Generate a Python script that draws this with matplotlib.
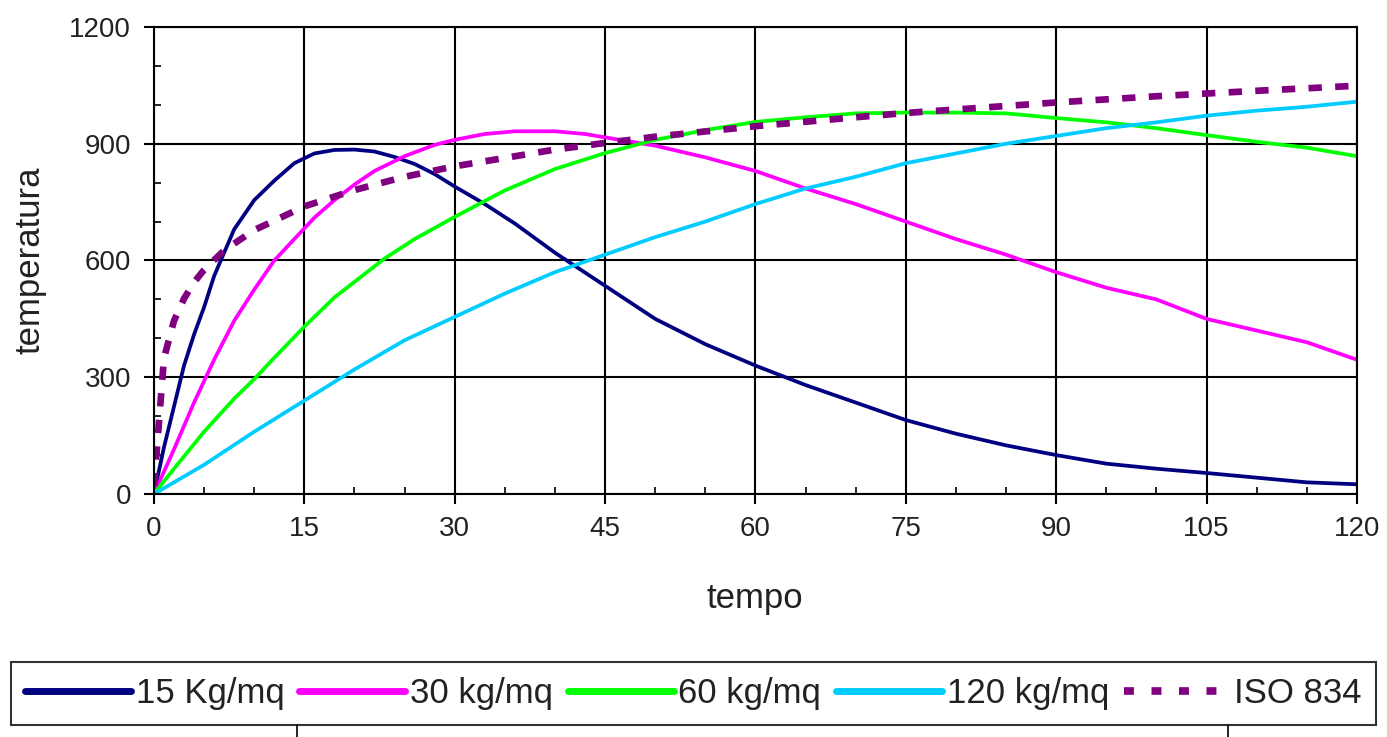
import numpy as np
import matplotlib
matplotlib.use("Agg")
import matplotlib.pyplot as plt
from matplotlib.lines import Line2D
from matplotlib.ticker import MultipleLocator

plt.rcParams['font.family'] = ['Liberation Sans', 'DejaVu Sans']

# values
t_15 = [0, 1, 2, 3, 4, 5, 6, 7, 8, 10, 12, 14, 16, 18, 20, 22, 24, 26, 28, 30,
        33, 36, 40, 45, 50, 55, 60, 65, 70, 75, 80, 85, 90, 95, 100, 105, 110, 115, 120]
T_15 = [0, 120, 225, 330, 410, 480, 560, 620, 680, 755, 805, 850, 875, 884, 885, 880,
        866, 848, 822, 790, 745, 695, 620, 535, 450, 385, 330, 280, 235, 190, 155, 125,
        100, 78, 65, 54, 42, 30, 25]

t_30 = [0, 2, 4, 6, 8, 10, 12, 14, 16, 18, 20, 22, 25, 28, 30, 33, 36, 40, 43, 46,
        50, 55, 60, 65, 70, 75, 80, 85, 90, 95, 100, 105, 110, 115, 120]
T_30 = [0, 115, 235, 345, 445, 525, 600, 655, 710, 755, 795, 830, 868, 897, 910, 925,
        932, 932, 925, 912, 895, 865, 830, 785, 745, 700, 655, 615, 570, 530, 500, 450,
        420, 390, 345]

t_60 = [0, 2, 5, 8, 10, 12, 15, 18, 20, 23, 26, 30, 35, 40, 45, 50, 55, 60, 65, 70,
        75, 80, 85, 90, 95, 100, 105, 110, 115, 120]
T_60 = [0, 65, 160, 245, 295, 350, 430, 505, 545, 605, 655, 712, 780, 835, 876, 910,
        935, 956, 968, 978, 980, 980, 978, 966, 955, 940, 922, 905, 890, 868]

t_120 = [0, 5, 10, 15, 20, 25, 30, 35, 40, 45, 50, 55, 60, 65, 70, 75, 80, 85, 90,
         95, 100, 105, 110, 115, 120]
T_120 = [0, 75, 160, 240, 320, 395, 455, 515, 570, 615, 660, 700, 745, 785, 815, 850,
         875, 900, 920, 940, 955, 972, 985, 995, 1008]

t_iso = [0, 1, 2, 3, 4, 5, 7, 10, 15, 20, 25, 30, 40, 45, 50, 60, 70, 75, 80, 90,
         100, 105, 110, 120]
T_iso = [20, 349, 445, 502, 544, 576, 626, 678, 739, 781, 815, 842, 885, 902, 918,
         945, 968, 979, 988, 1006, 1022, 1029, 1036, 1049]

labels = ["15 Kg/mq", "30 kg/mq", "60 kg/mq", "120 kg/mq", "ISO 834"]
colors = ["#000080", "#FF00FF", "#00FF00", "#00CCFF", "#800080"]

fig = plt.figure(figsize=(13.87, 7.37), dpi=100)
ax = fig.add_axes([0.111, 0.3297, 0.8673, 0.6337])

ax.plot(t_15, T_15, color=colors[0], lw=2.7, label=labels[0])
ax.plot(t_30, T_30, color=colors[1], lw=2.7, label=labels[1])
ax.plot(t_60, T_60, color=colors[2], lw=2.7, label=labels[2])
ax.plot(t_120, T_120, color=colors[3], lw=2.7, label=labels[3])
ax.plot(t_iso, T_iso, color=colors[4], lw=4.8, ls=(0, (2, 2)), label=labels[4])

ax.set_xlim(0, 120)
ax.set_ylim(0, 1200)
ax.xaxis.set_major_locator(MultipleLocator(15))
ax.xaxis.set_minor_locator(MultipleLocator(5))
ax.yaxis.set_major_locator(MultipleLocator(300))
ax.yaxis.set_minor_locator(MultipleLocator(100))
ax.grid(True, which='major', color='black', lw=1.5)
ax.set_axisbelow(True)
for s in ax.spines.values():
    s.set_color('black')
    s.set_linewidth(1.5)

ax.tick_params(which='major', direction='out', length=7.5, width=1.5, labelsize=20,
               labelcolor='#222222')
ax.tick_params(axis='x', which='major', pad=8)
ax.tick_params(axis='y', which='major', pad=9)
ax.tick_params(which='minor', direction='in', length=5, width=1.2)

ax.set_xlabel("tempo", fontsize=25, color='#222222', ha='center', va='center')
ax.xaxis.set_label_coords(0.4996, -0.223)
ax.set_ylabel("temperatura", fontsize=25, color='#222222', ha='center', va='center')
ax.yaxis.set_label_coords(-0.103, 0.501)

handles = [Line2D([], [], color=c, lw=5 if i < 4 else 5.5,
                  ls='-' if i < 4 else (0, (1.3, 2.3)), solid_capstyle='round')
           for i, c in enumerate(colors)]
leg = fig.legend(handles, labels, ncol=5, loc='center',
                 bbox_to_anchor=(0.5, 1 - 693.5 / 737), fontsize=25,
                 handlelength=3.05, handletextpad=0.14, columnspacing=0.42,
                 frameon=True, fancybox=False, edgecolor='black',
                 borderpad=0.42, borderaxespad=0)
leg.get_frame().set_linewidth(1.5)
for txt in leg.get_texts():
    txt.set_color('#222222')

# leftover frame lines under the legend
for xp in (297, 1228):
    fig.add_artist(Line2D([xp / 1387, xp / 1387], [0, 1 - 725 / 737],
                          color='black', lw=1.2, transform=fig.transFigure))

fig.savefig("out.png", dpi=100)
